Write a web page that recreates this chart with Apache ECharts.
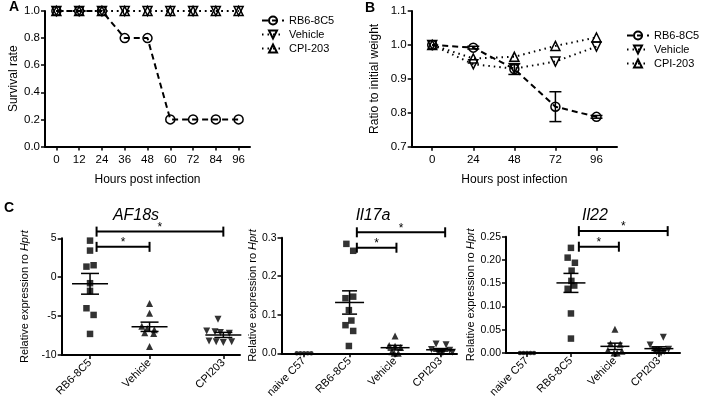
<!DOCTYPE html>
<html><head><meta charset="utf-8">
<script src="https://cdn.jsdelivr.net/npm/echarts@6/dist/echarts.min.js"></script>
<style>html,body{margin:0;padding:0;background:#fff}#c{width:701px;height:404px}</style>
</head><body><div id="c"></div>
<script>
// ================= DATA =================
// Panel A: survival
const hoursA = [0, 12, 24, 36, 48, 60, 72, 84, 96];
const survivalRB6 = [1, 1, 1, 0.8, 0.8, 0.2, 0.2, 0.2, 0.2];
const survivalVehicle = [1, 1, 1, 1, 1, 1, 1, 1, 1];
const survivalCPI = [1, 1, 1, 1, 1, 1, 1, 1, 1];
const xTicksA = [0, 12, 24, 36, 48, 60, 72, 84, 96];
const yTicksA = [0, 0.2, 0.4, 0.6, 0.8, 1.0];

// Panel B: weight
const hoursB = [0, 24, 48, 72, 96];
const weightRB6 = [1.0, 0.992, 0.929, 0.818, 0.788];
const weightRB6Err = [0, 0.004, 0.016, 0.044, 0.004];
const weightVehicle = [1.0, 0.943, 0.930, 0.951, 0.995];
const weightCPI = [1.0, 0.960, 0.965, 0.997, 1.022];
const xTicksB = [0, 24, 48, 72, 96];
const yTicksB = [0.7, 0.8, 0.9, 1.0, 1.1];

const seriesNames = ['RB6-8C5', 'Vehicle', 'CPI-203'];

// Panel C
const groupsC1 = ['RB6-8C5', 'Vehicle', 'CPI203'];
const groupsC23 = ['naive C57', 'RB6-8C5', 'Vehicle', 'CPI203'];

const af18sRB6 = [4.7, 3.42, 1.36, 1.54, -0.77, -1.76, -3.99, -4.85, -7.29];
const af18sRB6Jit = [0, 0, -0.06, 0.06, 0, 0, -0.06, 0.06, 0];
const af18sVehicle = [-3.39, -4.63, -6.3, -6.6, -6.75, -7.15, -7.25, -8.92];
const af18sVehicleJit = [0, 0, -0.13, -0.04, 0.08, -0.08, 0.07, 0];
const af18sCPI = [-5.4, -6.9, -7.0, -7.1, -7.2, -8.2, -8.3, -8.4, -8.3];
const af18sCPIJit = [-0.09, -0.28, -0.14, -0.05, 0.1, -0.24, -0.12, 0, 0.14];
const af18sBrackets = [[0, 1, 3.9], [0, 2, 5.86]];

const il17aNaive = [0, 0, 0, 0, 0];
const il17aNaiveJit = [-0.16, -0.08, 0, 0.08, 0.16];
const il17aRB6 = [0.284, 0.266, 0.143, 0.147, 0.112, 0.085, 0.073, 0.058, 0.019];
const il17aRB6Jit = [-0.07, 0.08, -0.09, 0.08, -0.015, 0.04, -0.09, 0.08, -0.015];
const il17aVehicle = [0.045, 0.020, 0.018, 0.015, 0.004, 0.0, 0.0];
const il17aVehicleJit = [0, -0.13, 0, 0.12, -0.07, 0.07, -0.02];
const il17aCPI = [0.024, 0.022, 0.010, 0.008, 0.004, 0.002, 0.0, 0.003];
const il17aCPIJit = [-0.1, 0.12, -0.2, 0.2, -0.06, 0.05, 0, 0.26];
const il17aBrackets = [[1, 2, 0.274], [1, 3, 0.314]];

const il22Naive = [0, 0, 0, 0, 0];
const il22NaiveJit = [-0.16, -0.08, 0, 0.08, 0.16];
const il22RB6 = [0.226, 0.205, 0.194, 0.177, 0.155, 0.145, 0.138, 0.085, 0.031];
const il22RB6Jit = [0, -0.075, 0.09, 0.015, 0.01, 0.075, -0.075, 0, 0];
const il22Vehicle = [0.051, 0.020, 0.019, 0.006, 0.004, 0.0, 0.0];
const il22VehicleJit = [0, -0.1, 0.12, -0.16, 0.16, -0.02, 0.05];
const il22CPI = [0.034, 0.017, 0.008, 0.006, 0.005, 0.003, 0.002, 0.0];
const il22CPIJit = [0.1, -0.2, 0.22, -0.1, 0.0, 0.12, -0.05, 0.05];
const il22Brackets = [[1, 2, 0.2285], [1, 3, 0.262]];

// ================= LAYOUT =================
const FONT = 'Liberation Sans, Arial, sans-serif';
const catPosC1 = [0, 1, 2.24];
const catPosC23 = [0, 1, 2, 3];
// [start shift, end shift for nearer group, end shift for last group]
const bracketShift = [[0.11, 0, 0], [0.16, 0.03, 0.1], [0.18, 0.09, 0.2]];

function pts(pos, vals, jit) { return vals.map((v, i) => [pos + jit[i], v]); }
function stat(pos, vals) {
  const n = vals.length, m = vals.reduce((a, b) => a + b, 0) / n;
  const sd = Math.sqrt(vals.reduce((a, b) => a + (b - m) * (b - m), 0) / (n - 1));
  return [pos, m, sd / Math.sqrt(n)];
}
const blk = '#000';
const tickStyle = { show: true, length: 4, lineStyle: { color: blk, width: 1.5 } };
const lineAx = { show: true, onZero: false, lineStyle: { color: blk, width: 2 } };
const lbl = (fs) => ({ color: blk, fontSize: fs, fontFamily: FONT });

function meanSem(halfW, capW) {
  return function (params, api) {
    const x = api.value(0), m = api.value(1), s = api.value(2);
    const c = api.coord([x, m]), t = api.coord([x, m + s]), b = api.coord([x, m - s]);
    const st = { stroke: blk, lineWidth: 1.5, fill: null };
    return { type: 'group', children: [
      { type: 'line', shape: { x1: c[0] - halfW, y1: c[1], x2: c[0] + halfW, y2: c[1] }, style: st },
      { type: 'line', shape: { x1: t[0], y1: t[1], x2: b[0], y2: b[1] }, style: st },
      { type: 'line', shape: { x1: t[0] - capW, y1: t[1], x2: t[0] + capW, y2: t[1] }, style: st },
      { type: 'line', shape: { x1: b[0] - capW, y1: b[1], x2: b[0] + capW, y2: b[1] }, style: st }
    ]};
  };
}
function bracketRender(params, api) {
  const a = api.coord([api.value(0), api.value(2)]), b = api.coord([api.value(1), api.value(2)]);
  const st = { stroke: blk, lineWidth: 2, fill: null };
  return { type: 'group', children: [
    { type: 'line', shape: { x1: a[0], y1: a[1], x2: b[0], y2: b[1] }, style: st },
    { type: 'line', shape: { x1: a[0], y1: a[1] - 5, x2: a[0], y2: a[1] + 5 }, style: st },
    { type: 'line', shape: { x1: b[0], y1: b[1] - 5, x2: b[0], y2: b[1] + 5 }, style: st },
    { type: 'text', x: (a[0] + b[0]) / 2, y: a[1] - 4, style: { text: '*', textAlign: 'center', textVerticalAlign: 'middle', font: '12px ' + FONT, fill: blk } }
  ]};
}
function errRender(params, api) {
  const x = api.value(0), y = api.value(1), e = api.value(2);
  if (!e) return null;
  const t = api.coord([x, y + e]), b = api.coord([x, y - e]);
  const st = { stroke: blk, lineWidth: 1.5, fill: null };
  return { type: 'group', children: [
    { type: 'line', shape: { x1: t[0], y1: t[1], x2: b[0], y2: b[1] }, style: st },
    { type: 'line', shape: { x1: t[0] - 6, y1: t[1], x2: t[0] + 6, y2: t[1] }, style: st },
    { type: 'line', shape: { x1: b[0] - 6, y1: b[1], x2: b[0] + 6, y2: b[1] }, style: st }
  ]};
}

const grids = [
  { left: 45, top: 11, width: 205, height: 135.5 },
  { left: 411.7, top: 11, width: 205.3, height: 135.7 },
  { left: 61.7, top: 238.3, width: 178.3, height: 116.7 },
  { left: 281.5, top: 237.7, width: 175.5, height: 115.6 },
  { left: 506, top: 236.7, width: 174, height: 116.3 }
];

function xVal(gi, min, max, ticks, fmt, extra) {
  return Object.assign({
    type: 'value', gridIndex: gi, min: min, max: max,
    axisLine: lineAx, axisTick: Object.assign({}, tickStyle, { customValues: ticks }),
    axisLabel: Object.assign(lbl(11.5), { customValues: ticks, formatter: fmt, margin: 7 }),
    splitLine: { show: false }
  }, extra || {});
}
function yVal(gi, min, max, ticks, dec, name, gap, fs) {
  return {
    type: 'value', gridIndex: gi, min: min, max: max,
    axisLine: lineAx, axisTick: Object.assign({}, tickStyle, { customValues: ticks }),
    axisLabel: Object.assign(lbl(fs), { customValues: ticks, formatter: v => v.toFixed(dec), margin: 5 }),
    splitLine: { show: false },
    name: name, nameLocation: 'middle', nameRotate: 90, nameGap: gap,
    nameTextStyle: { color: blk, fontSize: fs + 0.5, fontFamily: FONT, rich: { i: { fontStyle: 'italic', fontSize: fs + 0.5, fontFamily: FONT, color: blk } } }
  };
}
const catFmt = (names, pos) => v => {
  let bi = 0; pos.forEach((p, i) => { if (Math.abs(p - v) < Math.abs(pos[bi] - v)) bi = i; });
  return names[bi];
};
const hoursName = { name: 'Hours post infection', nameLocation: 'middle', nameGap: 27, nameTextStyle: { color: blk, fontSize: 12, fontFamily: FONT } };
const catAxisExtra = (names, pos) => ({ axisLabel: Object.assign(lbl(11), { customValues: pos, formatter: catFmt(names, pos), rotate: 45, margin: 6 }) });

const yTicksC1 = [-10, -5, 0, 5];
const yTicksC2 = [0, 0.1, 0.2, 0.3];
const yTicksC3 = [0, 0.05, 0.1, 0.15, 0.2, 0.25];
const relName = 'Relative expression ro {i|Hprt}';

const openSym = (sym, rot) => ({ symbol: sym, symbolSize: 9, symbolRotate: rot || 0,
  itemStyle: { color: 'rgba(255,255,255,0)', borderColor: blk, borderWidth: 1.5 } });
function lineSeries(name, xi, xs, ys, dash, sym, rot) {
  return Object.assign({
    type: 'line', name: name, xAxisIndex: xi, yAxisIndex: xi,
    data: xs.map((x, i) => [x, ys[i]]),
    lineStyle: { color: blk, width: 2, type: dash },
    clip: false, z: 3
  }, openSym(sym, rot));
}
const dashed = [6, 4], dotted = [1.5, 4];

const scat = (gi, data, sym, size, rot) => ({ type: 'scatter', xAxisIndex: gi, yAxisIndex: gi, data: data,
  symbol: sym, symbolSize: size, symbolRotate: rot || 0, itemStyle: { color: blk }, clip: false, z: 4 });
const ms = (gi, data, hw, cw) => ({ type: 'custom', xAxisIndex: gi, yAxisIndex: gi, data: data, renderItem: meanSem(hw, cw), z: 5, clip: false });
const br = (gi, list, pos, shift) => ({ type: 'custom', xAxisIndex: gi, yAxisIndex: gi, clip: false, z: 5,
  data: list.map(b => [pos[b[0]] + shift[0], pos[b[1]] + (b[1] === pos.length - 1 ? shift[2] : shift[1]), b[2]]),
  renderItem: bracketRender });

const legendBase = { data: seriesNames, orient: 'vertical', itemWidth: 22, itemHeight: 10, itemGap: 3, padding: 0, selectedMode: false, textStyle: { color: blk, fontSize: 11, fontFamily: FONT } };

const option = {
  animation: false,
  backgroundColor: '#fff',
  textStyle: { fontFamily: FONT },
  grid: grids,
  legend: [
    Object.assign({ left: 261, top: 15 }, legendBase),
    Object.assign({ left: 626, top: 30 }, legendBase)
  ],
  xAxis: [
    xVal(0, -6, 102, xTicksA, v => String(v), hoursName),
    xVal(1, -12, 108, xTicksB, v => String(v), hoursName),
    xVal(2, -0.476, 2.52, catPosC1, null, catAxisExtra(groupsC1, catPosC1)),
    xVal(3, -0.495, 3.36, catPosC23, null, catAxisExtra(groupsC23, catPosC23)),
    xVal(4, -0.477, 3.48, catPosC23, null, catAxisExtra(groupsC23, catPosC23))
  ],
  yAxis: [
    yVal(0, 0, 1, yTicksA, 1, 'Survival rate', 25, 11.5),
    yVal(1, 0.7, 1.1, yTicksB, 1, 'Ratio to initial weight', 31, 11.5),
    yVal(2, -10, 5, yTicksC1, 0, relName, 31, 10.5),
    yVal(3, 0, 0.3, yTicksC2, 1, relName, 16, 10.5),
    yVal(4, 0, 0.25, yTicksC3, 2, relName, 23, 10.5)
  ],
  graphic: [
    { type: 'text', x: 9, y: 0, style: { text: 'A', font: 'bold 14px ' + FONT, fill: blk } },
    { type: 'text', x: 365, y: 1, style: { text: 'B', font: 'bold 14px ' + FONT, fill: blk } },
    { type: 'text', x: 4, y: 201, style: { text: 'C', font: 'bold 14px ' + FONT, fill: blk } },
    { type: 'text', x: 136, y: 216, style: { text: 'AF18s', textAlign: 'center', textVerticalAlign: 'middle', font: 'italic 16px ' + FONT, fill: blk } },
    { type: 'text', x: 373, y: 216, style: { text: 'Il17a', textAlign: 'center', textVerticalAlign: 'middle', font: 'italic 16px ' + FONT, fill: blk } },
    { type: 'text', x: 595, y: 216, style: { text: 'Il22', textAlign: 'center', textVerticalAlign: 'middle', font: 'italic 16px ' + FONT, fill: blk } }
  ],
  series: [
    lineSeries(seriesNames[0], 0, hoursA, survivalRB6, dashed, 'circle'),
    lineSeries(seriesNames[1], 0, hoursA, survivalVehicle, dotted, 'triangle', 180),
    lineSeries(seriesNames[2], 0, hoursA, survivalCPI, dotted, 'triangle'),
    { type: 'custom', xAxisIndex: 1, yAxisIndex: 1, data: hoursB.map((h, i) => [h, weightRB6[i], weightRB6Err[i]]), renderItem: errRender, z: 2 },
    lineSeries(seriesNames[0], 1, hoursB, weightRB6, dashed, 'circle'),
    lineSeries(seriesNames[1], 1, hoursB, weightVehicle, dotted, 'triangle', 180),
    lineSeries(seriesNames[2], 1, hoursB, weightCPI, dotted, 'triangle'),

    scat(2, pts(catPosC1[0], af18sRB6, af18sRB6Jit), 'rect', 6.5),
    scat(2, pts(catPosC1[1], af18sVehicle, af18sVehicleJit), 'triangle', 7),
    scat(2, pts(catPosC1[2], af18sCPI, af18sCPIJit), 'triangle', 7, 180),
    ms(2, [stat(catPosC1[0], af18sRB6), stat(catPosC1[1], af18sVehicle), stat(catPosC1[2], af18sCPI)], 18, 9),
    br(2, af18sBrackets, catPosC1, bracketShift[0]),

    scat(3, pts(catPosC23[0], il17aNaive, il17aNaiveJit), 'circle', 4.5),
    scat(3, pts(catPosC23[1], il17aRB6, il17aRB6Jit), 'rect', 6.5),
    scat(3, pts(catPosC23[2], il17aVehicle, il17aVehicleJit), 'triangle', 7),
    scat(3, pts(catPosC23[3], il17aCPI, il17aCPIJit), 'triangle', 7, 180),
    ms(3, [stat(catPosC23[1], il17aRB6), stat(catPosC23[2], il17aVehicle), stat(catPosC23[3], il17aCPI)], 14.5, 7.5),
    br(3, il17aBrackets, catPosC23, bracketShift[1]),

    scat(4, pts(catPosC23[0], il22Naive, il22NaiveJit), 'circle', 4.5),
    scat(4, pts(catPosC23[1], il22RB6, il22RB6Jit), 'rect', 6.5),
    scat(4, pts(catPosC23[2], il22Vehicle, il22VehicleJit), 'triangle', 7),
    scat(4, pts(catPosC23[3], il22CPI, il22CPIJit), 'triangle', 7, 180),
    ms(4, [stat(catPosC23[1], il22RB6), stat(catPosC23[2], il22Vehicle), stat(catPosC23[3], il22CPI)], 14.5, 7.5),
    br(4, il22Brackets, catPosC23, bracketShift[2])
  ]
};
const chart = echarts.init(document.getElementById('c'), null, { renderer: 'canvas' });
chart.setOption(option);
</script></body></html>
